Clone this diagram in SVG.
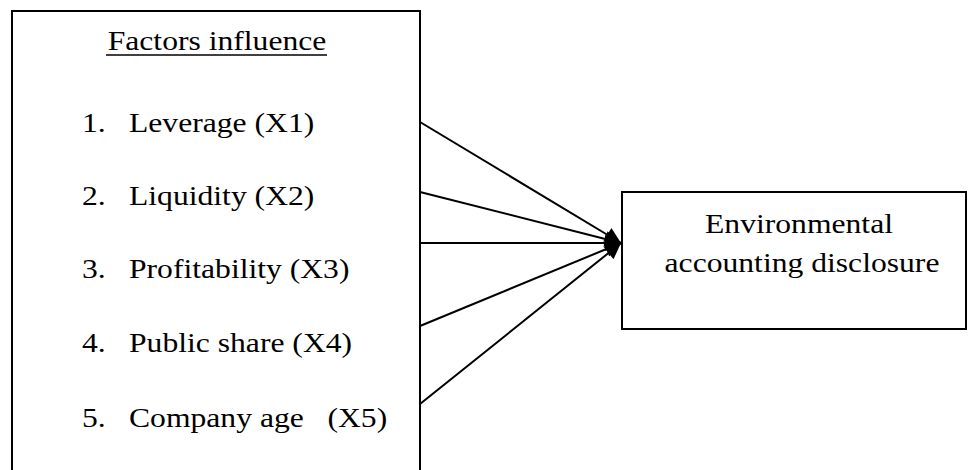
<svg xmlns="http://www.w3.org/2000/svg" width="968" height="470" viewBox="0 0 968 470">
<style>
.box{fill:#fff;stroke:#000;stroke-width:2}
.t{font-family:"Liberation Serif","Times New Roman",serif;font-size:28px;fill:#000}
.c{stroke:#000;stroke-width:2;fill:none}
</style>
<defs>
<marker id="ah" viewBox="0 0 10 10" refX="10" refY="5" markerWidth="9" markerHeight="8" orient="auto" markerUnits="strokeWidth">
<path d="M0,0 L10,5 L0,10 z" fill="#000"/>
</marker>
</defs>
<rect width="968" height="470" fill="#fff"/>
<g id="factors">
<rect class="box" x="12" y="11" width="408" height="470"/>
<text class="t" transform="translate(217,50) scale(1.13,1)" text-anchor="middle">Factors influence</text>
<line x1="106" y1="55" x2="327" y2="55" stroke="#000" stroke-width="1.5"/>
<text class="t" transform="translate(82,132) scale(1.13,1)">1.</text><text class="t" transform="translate(129,132) scale(1.13,1)">Leverage (X1)</text>
<text class="t" transform="translate(82,205) scale(1.13,1)">2.</text><text class="t" transform="translate(129,205) scale(1.13,1)">Liquidity (X2)</text>
<text class="t" transform="translate(82,278) scale(1.13,1)">3.</text><text class="t" transform="translate(129,278) scale(1.13,1)">Profitability (X3)</text>
<text class="t" transform="translate(82,352) scale(1.13,1)">4.</text><text class="t" transform="translate(129,352) scale(1.13,1)">Public share (X4)</text>
<text class="t" transform="translate(82,427) scale(1.13,1)">5.</text><text class="t" transform="translate(129,427) scale(1.13,1)" xml:space="preserve">Company age   (X5)</text>
</g>
<g id="disclosure">
<rect class="box" x="622" y="192" width="344" height="137"/>
<text class="t" transform="translate(799,233) scale(1.13,1)" text-anchor="middle">Environmental</text>
<text class="t" transform="translate(802,272) scale(1.13,1)" text-anchor="middle">accounting disclosure</text>
</g>
<g id="connectors">
<line class="c" x1="420" y1="122" x2="621" y2="243" marker-end="url(#ah)"/>
<line class="c" x1="420" y1="192" x2="621" y2="243" marker-end="url(#ah)"/>
<line class="c" x1="420" y1="243" x2="621" y2="243" marker-end="url(#ah)"/>
<line class="c" x1="420" y1="326" x2="621" y2="243" marker-end="url(#ah)"/>
<line class="c" x1="420" y1="404" x2="621" y2="243" marker-end="url(#ah)"/>
</g>
</svg>
